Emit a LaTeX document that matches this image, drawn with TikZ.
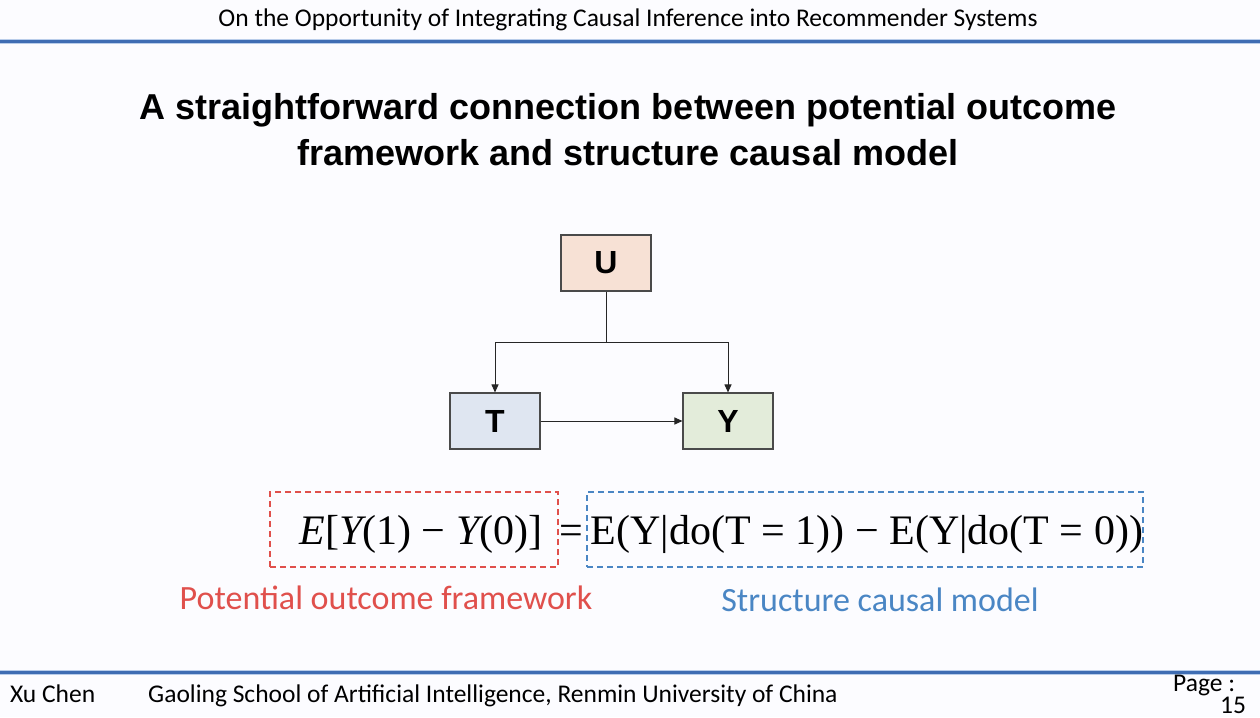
\documentclass[tikz,border=0pt]{standalone}
\usepackage{fontspec}
\setmainfont{Carlito}
\newfontfamily\headfont{Liberation Sans}
\newfontfamily\eqfont{Liberation Serif}
\usetikzlibrary{arrows.meta}

\definecolor{barblue}{HTML}{3F6DB3}
\definecolor{barlight}{HTML}{B9CDEA}
\definecolor{boxline}{HTML}{4A4A4A}
\definecolor{ufill}{HTML}{F7E1D5}
\definecolor{tfill}{HTML}{DFE6F1}
\definecolor{yfill}{HTML}{E3ECDA}
\definecolor{pored}{HTML}{E0504C}
\definecolor{scmblue}{HTML}{4A86C4}

\begin{document}
\begin{tikzpicture}[x=1pt,y=-1pt,
  varbox/.style={draw=boxline, line width=1.1pt, minimum width=90pt, minimum height=56pt,
    inner sep=0pt, font=\headfont\bfseries\fontsize{32}{34}\selectfont},
  link/.style={draw=black!85, line width=1pt},
  tip/.style={-{Triangle[length=8pt,width=7pt]}},
  dashbox/.style={line width=1.4pt, dash pattern=on 6pt off 4pt, inner sep=0pt},
  eqtext/.style={font=\eqfont\fontsize{42}{46}\selectfont, anchor=base, inner sep=0pt},
  bar/.style={line width=5pt, barlight},
  barcore/.style={line width=3pt, barblue}]
\useasboundingbox (0,0) rectangle (1260,717);
\fill[white!99!blue] (0,0) rectangle (1260,717);

% header
\node[font=\fontsize{25.5}{28}\selectfont, anchor=base] (head) at (628,27)
  {On the Opportunity of Integrating Causal Inference into Recommender Systems};
\draw[bar] (0,42) -- (1260,42);
\draw[barcore] (0,42) -- (1260,42);

% title (base anchor sits on the last line)
\node[font=\headfont\bfseries\fontsize{36}{46}\selectfont, align=center, anchor=base] (title) at (628,165)
  {A straightforward connection between potential outcome\\framework and structure causal model};

% causal graph
\node[varbox, fill=ufill] (U) at (606,263) {U};
\node[varbox, fill=tfill] (T) at (495,421) {T};
\node[varbox, fill=yfill] (Y) at (728,421) {Y};
\coordinate (J) at (606,342);
\draw[link] (U) -- (J);
\draw[link, tip] (J) -| (T);
\draw[link, tip] (J) -| (Y);
\draw[link, tip] (T) -- (Y);

% estimand boxes
\node[dashbox, draw=pored, minimum width=288pt, minimum height=75pt] (pobox) at (414,529.5) {};
\node[dashbox, draw=scmblue, minimum width=556pt, minimum height=75pt] (scmbox) at (865,529.5) {};

\node[eqtext] (lhs) at (421,544) {\itshape E\upshape[\itshape Y\upshape(1) − \itshape Y\upshape(0)]};
\node[eqtext] (eq) at (571,544) {=};
\node[eqtext] (rhs) at (867,544) {E(Y|do(T = 1)) − E(Y|do(T = 0))};

\node[font=\fontsize{34}{38}\selectfont, text=pored, anchor=base] (polabel) at (386,609) {Potential outcome framework};
\node[font=\fontsize{34}{38}\selectfont, text=scmblue, anchor=base] (scmlabel) at (880,611) {Structure causal model};

% footer
\draw[bar] (0,672) -- (1260,672);
\draw[barcore] (0,672) -- (1260,672);
\node[font=\fontsize{25.5}{28}\selectfont, anchor=base west, inner sep=0pt] (author) at (10,702) {Xu Chen};
\node[font=\fontsize{25.5}{28}\selectfont, anchor=base west, inner sep=0pt] (school) at (148,702)
  {Gaoling School of Artificial Intelligence, Renmin University of China};
\node[font=\fontsize{25.5}{28}\selectfont, anchor=base west, inner sep=0pt] (page) at (1173,691) {Page :};
\node[font=\fontsize{25.5}{28}\selectfont, anchor=base west, inner sep=0pt] (pnum) at (1220,713) {15};
\end{tikzpicture}
\end{document}
